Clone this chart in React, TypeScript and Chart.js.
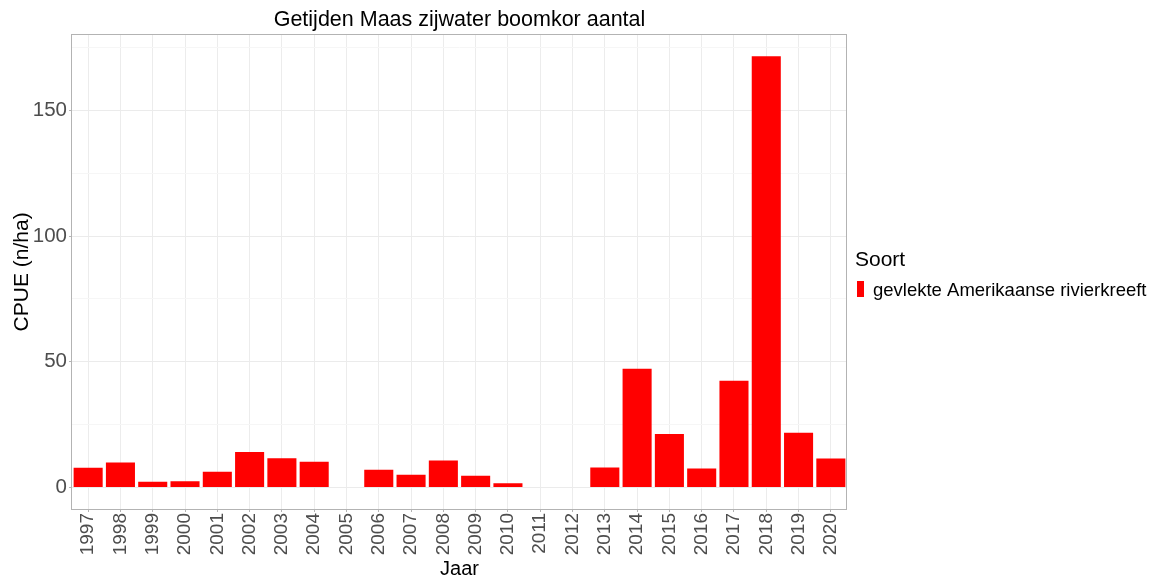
import React, { useEffect, useRef } from "react";
import { Chart, registerables } from "chart.js";

Chart.register(...registerables);

const years: string[] = [
  "1997", "1998", "1999", "2000", "2001", "2002", "2003", "2004", "2005", "2006", "2007", "2008",
  "2009", "2010", "2011", "2012", "2013", "2014", "2015", "2016", "2017", "2018", "2019", "2020",
];

const cpue: number[] = [
  7.8, 9.9, 2.3, 2.5, 6.2, 14.1, 11.6, 10.2, 0, 7.0, 5.1, 10.7,
  4.7, 1.7, 0, 0, 7.9, 47.2, 21.3, 7.5, 42.4, 171.5, 21.8, 11.5,
];

const seriesLabel = "gevlekte Amerikaanse rivierkreeft";
const legendTitle = "Soort";
const chartTitle = "Getijden Maas zijwater boomkor aantal";
const xTitle = "Jaar";
const yTitle = "CPUE (n/ha)";

const FONT = "'Liberation Sans', Arial, Helvetica, sans-serif";

export default function App() {
  const ref = useRef<HTMLCanvasElement | null>(null);

  useEffect(() => {
    if (!ref.current) return;
    const maxVal = Math.max(...cpue);
    const yMin = -0.05 * maxVal;
    const yMax = 1.05 * maxVal;

    const panelPlugin = {
      id: "panelAndLegend",
      afterDraw(chart: any) {
        const { ctx, chartArea } = chart;
        const { left, top, right, bottom } = chartArea;
        ctx.save();
        ctx.strokeStyle = "#b3b3b3";
        ctx.lineWidth = 1;
        ctx.strokeRect(Math.round(left) - 0.5, Math.round(top) - 0.5, Math.round(right) - Math.round(left), Math.round(bottom) - Math.round(top) + 1);
        // legend
        const lx = right + 8;
        ctx.fillStyle = "#000000";
        ctx.textAlign = "left";
        ctx.textBaseline = "alphabetic";
        ctx.font = `21px ${FONT}`;
        ctx.fillText(legendTitle, lx, 266);
        const ds = chart.data.datasets[0];
        ctx.fillStyle = ds.backgroundColor as string;
        ctx.fillRect(lx + 2, 281, 7, 16);
        ctx.fillStyle = "#000000";
        ctx.font = `18.5px ${FONT}`;
        ctx.fillText(ds.label, lx + 18, 296);
        ctx.restore();
      },
    };

    const chart = new Chart(ref.current, {
      type: "bar",
      data: {
        labels: years,
        datasets: [
          {
            label: seriesLabel,
            data: cpue,
            backgroundColor: "#ff0000",
            borderWidth: 0,
            barPercentage: 0.9,
            categoryPercentage: 1.0,
          },
        ],
      },
      options: {
        responsive: false,
        animation: false,
        devicePixelRatio: 1,
        layout: { padding: { left: 0, top: 0, right: 310, bottom: 0 } },
        plugins: {
          legend: { display: false },
          tooltip: { enabled: false },
          title: {
            display: true,
            text: chartTitle,
            fullSize: false,
            color: "#000000",
            font: { family: FONT, size: 21.5, weight: "normal" },
            padding: { top: 7, bottom: 2 },
          },
        },
        scales: {
          x: {
            afterFit: (s: any) => {
              s.height = 67;
            },
            grid: {
              offset: false,
              color: "#ececec",
              tickColor: "#b3b3b3",
              tickLength: 3,
              drawTicks: true,
            },
            border: { display: false },
            ticks: {
              autoSkip: false,
              minRotation: 90,
              maxRotation: 90,
              padding: 1,
              color: "#4d4d4d",
              font: { family: FONT, size: 19 },
            },
            title: {
              display: true,
              text: xTitle,
              color: "#000000",
              font: { family: FONT, size: 20 },
              padding: { top: 0, bottom: -5 },
            },
          },
          y: {
            min: yMin,
            max: yMax,
            afterFit: (s: any) => {
              s.width = 72;
            },
            grid: {
              color: (c: any) => (c.tick && c.tick.value % 50 === 0 ? "#ebebeb" : "#f6f6f6"),
              tickColor: (c: any) => (c.tick && c.tick.value % 50 === 0 ? "#b3b3b3" : "rgba(0,0,0,0)"),
              tickLength: 3,
              drawTicks: true,
            },
            border: { display: false },
            ticks: {
              stepSize: 25,
              includeBounds: false,
              padding: 2,
              color: "#4d4d4d",
              font: { family: FONT, size: 20.5 },
              callback: (v: any) => (Number(v) % 50 === 0 ? String(v) : ""),
            },
            title: {
              display: true,
              text: yTitle,
              color: "#000000",
              font: { family: FONT, size: 21 },
              padding: { top: 10, bottom: 0 },
            },
          },
        },
      },
      plugins: [panelPlugin],
    } as any);

    return () => chart.destroy();
  }, []);

  return (
    <div style={{ position: "absolute", left: 0, top: 0, width: 1157, height: 576, background: "#ffffff" }}>
      <canvas ref={ref} width={1157} height={576} style={{ display: "block" }} />
    </div>
  );
}
